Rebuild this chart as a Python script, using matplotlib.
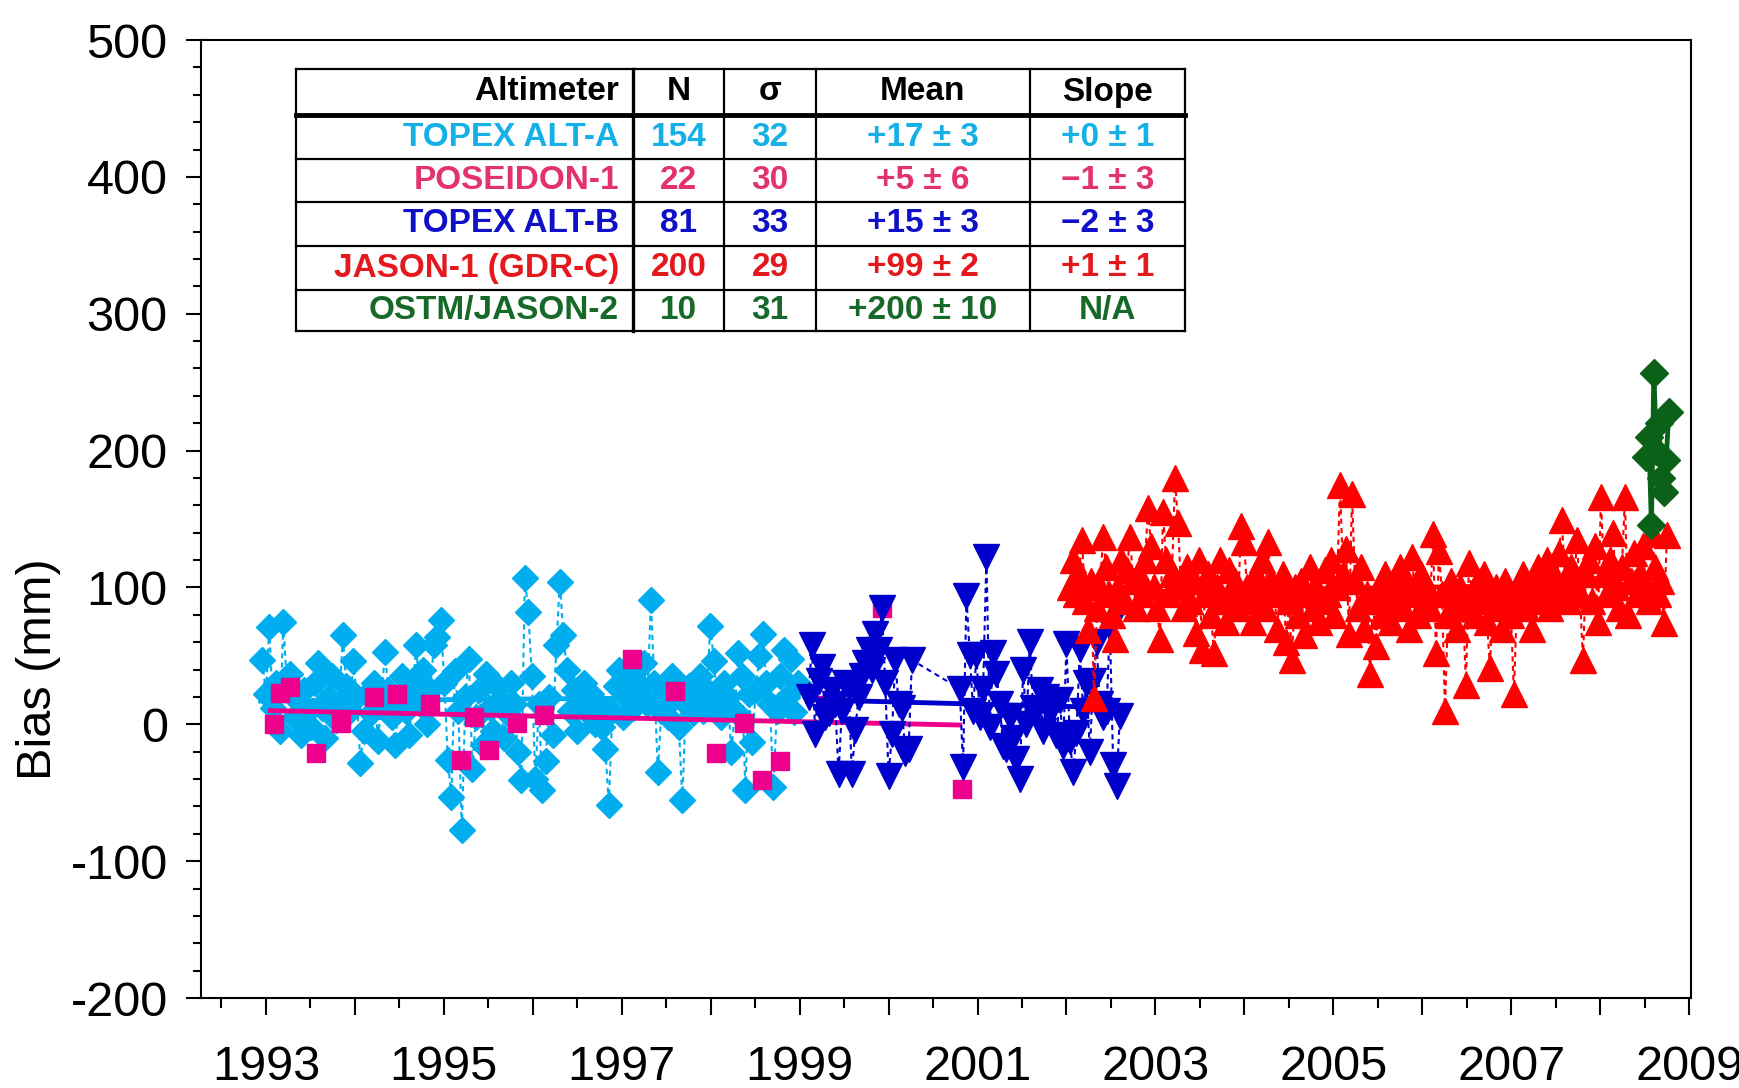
import numpy as np
import matplotlib
matplotlib.use('Agg')
import matplotlib.pyplot as plt
from matplotlib.ticker import MultipleLocator, FuncFormatter

plt.rcParams['font.family'] = ['Liberation Sans', 'DejaVu Sans']
plt.rcParams['axes.unicode_minus'] = False

# TOPEX ALT-A (cycle values, evenly spaced in time)
alta_start, alta_end = 1992.96, 1998.98
alta_bias = [
    47, 22, 71, 12, 30, -5, 75, 28, 37, 5,
    18, -8, 25, 10, -2, 30, 45, 12, -10, 20,
    35, 3, 15, 65, 28, 10, 46, 20, -28, -5,
    22, 8, 30, -12, 15, 53, 25, 5, -15, 20,
    35, 10, -8, 28, 58, 15, 40, 0, 25, 58,
    64, 76, 30, -26, -53, 39, 10, -77, 20, 48,
    -33, 5, 25, -15, 37, 12, -5, 28, 18, -10,
    8, 30, 15, -20, -41, 107, 82, 35, -40, 15,
    -48, -27, 20, -8, 58, 104, 65, 40, 10, 25,
    -5, 18, 30, 8, 22, 0, 15, -2, -18, -59,
    10, 28, 40, 5, 20, 35, 12, 30, 25, 45,
    15, 91, 30, -35, 10, 22, 5, 35, 20, -2,
    -55, 15, 28, 8, 20, 35, 10, 25, 72, 46,
    15, 5, 30, 20, -20, 10, 52, 35, -48, 22,
    -13, 25, 50, 66, 30, 15, -46, 10, 35, 54,
    20, 48, 9, 30]

# POSEIDON-1
pos_year = [1993.09, 1993.16, 1993.27, 1993.56, 1993.84, 1994.21, 1994.47, 1994.85,
            1995.19, 1995.34, 1995.51, 1995.82, 1996.13, 1997.12, 1997.60, 1998.06,
            1998.38, 1998.58, 1998.78, 1999.29, 1999.93, 2000.82]
pos_bias = [0, 23, 27, -21, 1, 20, 22, 15, -26, 5, -19, 1, 7, 48, 24, -21,
            1, -41, -27, 14, 85, -47]

# TOPEX ALT-B (two stretches separated by a data gap)
altb_start1, altb_start2, altb_step = 1999.10, 2000.80, 0.0375
altb_bias1 = [20, 58, -7, 32, 42, 5, 8, 25, 15, -36,
              10, 30, 27, -36, -4, 20, 35, 45, 54, 40,
              66, 54, 85, 30, -38, -7, 47, 15, 12, -21,
              -18, 47]
altb_bias2 = [26, -31, 94, 51, 10, 51, 5, 26, 122, -2,
              52, 37, 15, -16, -18, 5, -10, -25, -40, 40,
              0, 60, 12, 10, 25, -5, 20, 8, 15, -8,
              18, -16, 59, -12, -35, -6, 55, 10, 30, -20,
              32, 60, 15, 5, 10, 71, -30, -45, 6]

# JASON-1 (GDR-C)
j1_start, j1_end = 2002.04, 2008.75
j1_bias = [
    100, 120, 95, 110, 135, 90, 69, 105, 19, 85,
    100, 137, 115, 95, 80, 62, 100, 120, 90, 113,
    137, 105, 85, 110, 95, 120, 158, 130, 100, 85,
    62, 155, 120, 95, 110, 180, 147, 100, 85, 115,
    90, 105, 67, 120, 54, 95, 110, 80, 52, 100,
    120, 90, 75, 113, 95, 105, 85, 145, 133, 100,
    90, 75, 110, 95, 120, 85, 133, 105, 100, 70,
    95, 110, 60, 90, 47, 100, 80, 105, 65, 95,
    115, 85, 100, 75, 90, 113, 95, 120, 80,
    100, 175, 110, 128, 66, 168, 105, 85, 115, 70,
    95, 37, 90, 57, 100, 80, 110, 90, 75, 105,
    95, 115, 85, 100, 70, 122, 95, 80, 110, 90,
    100, 85, 139, 52, 127, 95, 10, 80, 105, 90,
    70, 100, 85, 29, 118, 95, 80, 105, 90, 110,
    75, 41, 95, 100, 85, 70, 105, 90, 80,
    22, 90, 100, 110, 85, 95, 70, 105, 115, 90,
    100, 120, 85, 110, 95, 125, 149, 105, 90, 115,
    100, 135, 95, 47, 110, 120, 90, 130, 75, 166,
    110, 95, 120, 140, 100, 85, 115, 166, 80, 105,
    125, 95, 110, 130, 100, 90, 140, 115, 95, 105,
    74, 138]

# OSTM/JASON-2
j2_start, j2_end = 2008.52, 2008.77
j2_bias = [195, 210, 146, 257, 200, 220, 180, 170, 193, 228]

# fitted trend lines: (year0, year1, bias0, bias1)
trend_alta = (1992.94, 1998.98, 17, 20)
trend_pos = (1993.05, 2000.80, 10, -0.5)
trend_altb = (1999.10, 2002.62, 18, 12)
trend_j1 = (2002.04, 2008.75, 96, 103)

# table
tab_header = ['Altimeter', 'N', 'σ', 'Mean', 'Slope']
tab_names = ['TOPEX ALT-A', 'POSEIDON-1', 'TOPEX ALT-B', 'JASON-1 (GDR-C)', 'OSTM/JASON-2']
tab_n = ['154', '22', '81', '200', '10']
tab_sigma = ['32', '30', '33', '29', '31']
tab_mean = ['+17 ± 3', '+5 ± 6', '+15 ± 3', '+99 ± 2', '+200 ± 10']
tab_slope = ['+0 ± 1', '\u22121 ± 3', '\u22122 ± 3', '+1 ± 1', 'N/A']
tab_colors = ['#14B0E6', '#E2336E', '#1010C8', '#E3191E', '#17692A']

c_alta, c_pos, c_altb, c_j1, c_j2 = '#00AEEF', '#EC008C', '#0000CC', '#FF0000', '#0B6118'

fig = plt.figure(figsize=(17.4, 10.88), dpi=100)
ax = fig.add_axes([0.1155, 0.0827, 0.8563, 0.8805])

dash = (0, (2.5, 2))
t = np.linspace(alta_start, alta_end, len(alta_bias))
ax.plot(t, alta_bias, ls=dash, lw=1.5, color=c_alta, marker='D', ms=13.5, mec=c_alta, zorder=2)
ax.plot(trend_alta[:2], trend_alta[2:], color=c_alta, lw=3.5, zorder=3)

ax.plot(pos_year, pos_bias, ls='none', marker='s', ms=13.5, color=c_pos, zorder=4)
ax.plot(trend_pos[:2], trend_pos[2:], color=c_pos, lw=3.5, zorder=4)

tb = np.concatenate([altb_start1 + altb_step * np.arange(len(altb_bias1)),
                     altb_start2 + altb_step * np.arange(len(altb_bias2))])
ax.plot(tb, altb_bias1 + altb_bias2, ls=dash, lw=1.5, color=c_altb, marker='v', ms=19, zorder=5)
ax.plot(trend_altb[:2], trend_altb[2:], color=c_altb, lw=3.5, zorder=5)

t1 = np.linspace(j1_start, j1_end, len(j1_bias))
ax.plot(t1, j1_bias, ls=dash, lw=1.5, color=c_j1, marker='^', ms=19, zorder=6)
ax.plot(trend_j1[:2], trend_j1[2:], color=c_j1, lw=3.5, zorder=6)

t2 = np.linspace(j2_start, j2_end, len(j2_bias))
ax.plot(t2, j2_bias, ls='-', lw=3.5, color=c_j2, marker='D', ms=14, zorder=7)

ax.set_xlim(1992.27, 2009.02)
ax.set_ylim(-200, 500)
ax.xaxis.set_major_locator(MultipleLocator(1))
ax.xaxis.set_minor_locator(MultipleLocator(0.5))
ax.xaxis.set_major_formatter(FuncFormatter(lambda x, p: str(int(round(x))) if int(round(x)) % 2 == 1 else ''))
ax.yaxis.set_major_locator(MultipleLocator(100))
ax.yaxis.set_minor_locator(MultipleLocator(20))
ax.tick_params(which='both', direction='out', width=1.5, labelsize=35, top=False, right=False)
ax.tick_params(axis='x', which='major', length=12, pad=22)
ax.tick_params(axis='x', which='minor', length=7)
ax.tick_params(axis='y', which='major', length=11, pad=13)
ax.tick_params(axis='y', which='minor', length=6)
for s in ax.spines.values():
    s.set_linewidth(1.5)

fig.text(39 / 1740, 1 - 669 / 1088, 'Bias (mm)', rotation=90, fontsize=35, ha='center', va='center')

# table drawn in figure pixel coordinates
tax = fig.add_axes([0, 0, 1, 1], facecolor='none')
tax.set_xlim(0, 1740)
tax.set_ylim(1088, 0)
tax.axis('off')
col_x = [296, 633, 724, 816, 1030, 1185]
row_y = [69, 115, 159, 202, 246, 290, 331]
tax.fill_between([col_x[0], col_x[-1]], row_y[0], row_y[-1], color='white', zorder=1)
for i, y in enumerate(row_y):
    lw = 3.5 if i == 1 else 1.6
    tax.plot([col_x[0], col_x[-1]], [y, y], color='black', lw=lw, zorder=2)
for i, x in enumerate(col_x):
    lw = 2.4 if i == 1 else 1.6
    tax.plot([x, x], [row_y[0], row_y[-1]], color='black', lw=lw, zorder=2)

centers = [(col_x[i] + col_x[i + 1]) / 2 for i in range(5)]
yc = [(row_y[i] + row_y[i + 1]) / 2 for i in range(6)]
fs = 24
tax.text(col_x[1] - 14, yc[0], tab_header[0], ha='right', va='center', fontsize=fs, weight='bold')
for j in range(1, 5):
    tax.text(centers[j], yc[0], tab_header[j], ha='center', va='center', fontsize=fs, weight='bold')
for i in range(5):
    c = tab_colors[i]
    tax.text(col_x[1] - 14, yc[i + 1], tab_names[i], ha='right', va='center', fontsize=fs, weight='bold', color=c)
    for j, vals in zip(range(1, 5), [tab_n, tab_sigma, tab_mean, tab_slope]):
        tax.text(centers[j], yc[i + 1], vals[i], ha='center', va='center', fontsize=fs, weight='bold', color=c)

fig.savefig('out.png', dpi=100)
